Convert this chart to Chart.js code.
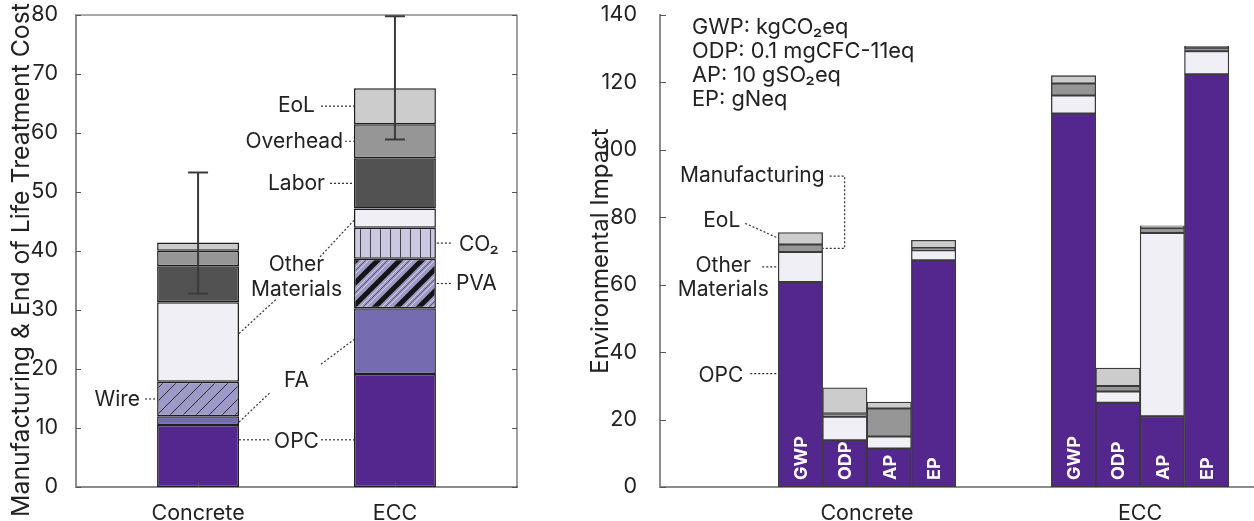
<!DOCTYPE html>
<html>
<head>
<meta charset="utf-8">
<script src="https://cdn.jsdelivr.net/npm/chart.js@4.4.0/dist/chart.umd.min.js"></script>
<style>
    html, body { margin: 0; padding: 0; background: #fff; }
    #costWrap { position: absolute; left: 0; top: 0; width: 540px; height: 521px; }
    #impactWrap { position: absolute; left: 540px; top: 0; width: 714px; height: 521px; }
</style>
</head>
<body>
<div id="costWrap"><canvas id="costChart" width="540" height="521"></canvas></div>
<div id="impactWrap"><canvas id="impactChart" width="714" height="521"></canvas></div>
<script>
// ---- left panel: cost per component (stack order bottom -> top)
const costCategories = ['Concrete', 'ECC'];
const costOPC = [10.5, 19.15];
const costFA = [1.5, 11.15];
const costWire = [5.85, null];
const costPVA = [null, 8.4];
const costCO2 = [null, 5.25];
const costOther = [13.45, 3.25];
const costLabor = [6.1, 8.5];
const costOverhead = [2.65, 5.8];
const costEoL = [1.4, 6.1];
const costErrLow = [32.8, 58.9];
const costErrHigh = [53.3, 79.8];
const costTicks = [0, 10, 20, 30, 40, 50, 60, 70, 80];

// ---- right panel: impacts, one value per indicator (GWP, ODP, AP, EP)
const impactGroups = ['Concrete', 'ECC'];
const impactIndicators = ['GWP', 'ODP', 'AP', 'EP'];
const concreteOPC = [60.8, 13.85, 11.4, 67.25];
const concreteOther = [8.9, 6.95, 3.6, 2.95];
const concreteManuf = [2.2, 1.0, 8.3, 0.7];
const concreteEoL = [3.6, 7.6, 1.9, 2.3];
const eccOPC = [110.8, 25.0, 21.0, 122.4];
const eccOther = [5.3, 3.3, 54.35, 6.85];
const eccManuf = [3.6, 1.65, 1.45, 1.05];
const eccEoL = [2.3, 5.35, 0.7, 0.4];
const impactTicks = [0, 20, 40, 60, 80, 100, 120, 140];
const impactUnits = ['GWP: kgCO₂eq', 'ODP: 0.1 mgCFC-11eq', 'AP: 10 gSO₂eq', 'EP: gNeq'];

Chart.defaults.font.family = 'Inter, "Noto Sans", sans-serif';
Chart.defaults.color = '#222';

const costCtx = document.getElementById('costChart').getContext('2d');

function makePattern(bg, w, h, draw) {
    const c = document.createElement('canvas');
    c.width = w; c.height = h;
    const g = c.getContext('2d');
    g.fillStyle = bg;
    g.fillRect(0, 0, w, h);
    draw(g, w, h);
    return costCtx.createPattern(c, 'repeat');
}

// lines x + y = c (mod s), so the tile repeats cleanly
function diag(g, s, c, width, color) {
    g.strokeStyle = color;
    g.lineWidth = width;
    g.beginPath();
    [-s, 0, s, 2 * s].forEach(k => {
        const C = c + k;
        g.moveTo(-s, C + s);
        g.lineTo(2 * s, C - 2 * s);
    });
    g.stroke();
}

const wirePattern = makePattern('#9e9ac8', 13, 13, (g, s) => diag(g, s, 0, 1, '#2b2b2b'));
const pvaPattern = makePattern('#9e9ac8', 22, 22, (g, s) => {
    diag(g, s, 7, 1, '#d4d2e8');
    diag(g, s, 10, 0.8, '#4a4a4a');
    diag(g, s, 13, 1, '#d4d2e8');
    diag(g, s, 0, 5, '#151515');
});
const co2Pattern = makePattern('#cbc9e2', 10, 10, g => {
    g.strokeStyle = '#444';
    g.lineWidth = 1;
    g.beginPath(); g.moveTo(0.5, 0); g.lineTo(0.5, 10); g.stroke();
});

const costPoints = arr => arr.map((v, i) => ({ x: i + 1, y: v }));

function costSet(label, arr, fill) {
    return {
        label: label,
        data: costPoints(arr),
        backgroundColor: fill,
        borderColor: '#1e1e1e',
        borderWidth: 1.5,
        borderSkipped: false,
        categoryPercentage: 1,
        barPercentage: 0.416
    };
}

// drop the extra room Chart.js keeps for half tick labels
function noPad(s) {
    s.paddingTop = 0; s.paddingBottom = 0;
    s.paddingLeft = 0; s.paddingRight = 0;
}

function dotted(ctx, pts) {
    ctx.save();
    ctx.setLineDash([2, 2]);
    ctx.strokeStyle = '#333';
    ctx.lineWidth = 1.2;
    ctx.beginPath();
    ctx.moveTo(pts[0][0], pts[0][1]);
    for (let i = 1; i < pts.length; i++) ctx.lineTo(pts[i][0], pts[i][1]);
    ctx.stroke();
    ctx.restore();
}

function label(ctx, text, x, y, align, size) {
    ctx.fillStyle = '#222';
    ctx.font = (size || 21) + 'px Inter, "Noto Sans", sans-serif';
    ctx.textAlign = align;
    ctx.textBaseline = 'middle';
    ctx.fillText(text, x, y);
}

const costDecor = {
    id: 'costDecor',
    afterDatasetsDraw(chart) {
        const { ctx, chartArea: a, scales: { x, y } } = chart;
        ctx.save();
        // frame
        ctx.strokeStyle = '#a8a8a8';
        ctx.lineWidth = 2;
        ctx.beginPath(); ctx.moveTo(a.left, a.top); ctx.lineTo(a.right, a.top); ctx.stroke();
        ctx.strokeStyle = '#444';
        ctx.lineWidth = 1;
        ctx.beginPath(); ctx.moveTo(a.right, a.top); ctx.lineTo(a.right, a.bottom); ctx.stroke();
        // inward ticks
        ctx.strokeStyle = '#555';
        ctx.beginPath();
        costTicks.forEach(v => {
            const py = Math.round(y.getPixelForValue(v)) + 0.5;
            ctx.moveTo(a.left, py); ctx.lineTo(a.left + 5, py);
            ctx.moveTo(a.right - 5, py); ctx.lineTo(a.right, py);
        });
        costCategories.forEach((c, i) => {
            const px = Math.round(x.getPixelForValue(i + 1)) + 0.5;
            ctx.moveTo(px, a.bottom); ctx.lineTo(px, a.bottom - 5);
        });
        ctx.stroke();

        // error bars
        ctx.strokeStyle = '#3a3a3a';
        ctx.lineWidth = 2;
        costCategories.forEach((c, i) => {
            const px = x.getPixelForValue(i + 1);
            const lo = y.getPixelForValue(costErrLow[i]);
            const hi = y.getPixelForValue(costErrHigh[i]);
            ctx.beginPath();
            ctx.moveTo(px, lo); ctx.lineTo(px, hi);
            ctx.moveTo(px - 10, lo); ctx.lineTo(px + 10, lo);
            ctx.moveTo(px - 10, hi); ctx.lineTo(px + 10, hi);
            ctx.stroke();
        });

        // axis title
        ctx.save();
        ctx.translate(22, (a.top + a.bottom) / 2 + 9);
        ctx.rotate(-Math.PI / 2);
        label(ctx, 'Manufacturing & End of Life Treatment Cost', 0, 0, 'center', 24.8);
        ctx.restore();

        // callouts
        const cBar = chart.getDatasetMeta(0).data[0];
        const eBar = chart.getDatasetMeta(0).data[1];
        const cL = cBar.x - cBar.width / 2, cR = cBar.x + cBar.width / 2;
        const eL = eBar.x - eBar.width / 2, eR = eBar.x + eBar.width / 2;
        const mid = (cR + eL) / 2;
        const Y = v => y.getPixelForValue(v);
        const topOf = (list, i) => list.reduce((s, arr) => s + (arr[i] || 0), 0);
        const eccMid = (below, seg) => Y(topOf(below, 1) + seg[1] / 2);
        const base = [costOPC, costFA, costWire, costPVA, costCO2, costOther];

        let py = eccMid([...base, costLabor, costOverhead], costEoL);
        label(ctx, 'EoL', eL - 39, py, 'right');
        dotted(ctx, [[eL - 33, py], [eL, py]]);
        py = eccMid([...base, costLabor], costOverhead);
        label(ctx, 'Overhead', eL - 11, py, 'right');
        dotted(ctx, [[eL - 9, py], [eL, py]]);
        py = eccMid(base, costLabor);
        label(ctx, 'Labor', eL - 29, py, 'right');
        dotted(ctx, [[eL - 24, py], [eL, py]]);
        py = eccMid([costOPC, costFA, costWire, costPVA], costCO2);
        label(ctx, 'CO₂', eR + 23, py + 2, 'left');
        dotted(ctx, [[eR + 1, py], [eR + 16, py]]);
        py = eccMid([costOPC, costFA, costWire], costPVA);
        label(ctx, 'PVA', eR + 20, py, 'left');
        dotted(ctx, [[eR + 1, py], [eR + 16, py]]);
        py = Y(costOPC[0] + costFA[0] + costWire[0] / 2);
        label(ctx, 'Wire', cL - 17, py + 1, 'right');
        dotted(ctx, [[cL - 12, py], [cL, py]]);

        py = Y(8);
        label(ctx, 'OPC', mid, py + 2, 'center');
        dotted(ctx, [[cR, py], [cR + 32, py]]);
        dotted(ctx, [[eL - 33, py], [eL, py]]);

        label(ctx, 'FA', mid, Y(18.1), 'center');
        dotted(ctx, [[cR, Y(11)], [cR + 31, Y(16)]]);
        dotted(ctx, [[eL - 33, Y(20.8)], [eL, Y(25)]]);

        label(ctx, 'Other', mid, Y(37.6), 'center');
        label(ctx, 'Materials', mid, Y(33.4), 'center');
        dotted(ctx, [[cR, Y(26)], [cR + 37, Y(31.8)]]);
        dotted(ctx, [[eL - 34, Y(39)], [eL, Y(45.2)]]);
        ctx.restore();
    }
};

new Chart(costCtx, {
    type: 'bar',
    data: {
        datasets: [
            costSet('OPC', costOPC, '#54278f'),
            costSet('FA', costFA, '#756bb1'),
            costSet('Wire', costWire, wirePattern),
            costSet('PVA', costPVA, pvaPattern),
            costSet('CO2', costCO2, co2Pattern),
            costSet('Other Materials', costOther, '#f0eff6'),
            costSet('Labor', costLabor, '#525252'),
            costSet('Overhead', costOverhead, '#969696'),
            costSet('EoL', costEoL, '#cccccc')
        ]
    },
    options: {
        responsive: false,
        animation: false,
        layout: { padding: { top: 15, right: 23, left: 0, bottom: 0 } },
        scales: {
            x: {
                type: 'linear',
                min: 0.38,
                max: 2.62,
                offset: false,
                stacked: true,
                grid: { display: false },
                border: { display: true, color: '#8c8c8c', width: 2 },
                afterBuildTicks: s => { s.ticks = costCategories.map((c, i) => ({ value: i + 1 })); },
                afterFit: s => { s.height = 34; noPad(s); },
                ticks: {
                    callback: v => costCategories[Math.round(v) - 1],
                    font: { size: 21.5 },
                    color: '#222',
                    padding: 6,
                    maxRotation: 0,
                    autoSkip: false
                }
            },
            y: {
                min: 0,
                max: 80,
                stacked: true,
                grid: { display: false },
                border: { display: true, color: '#8c8c8c', width: 2 },
                afterBuildTicks: s => { s.ticks = costTicks.map(v => ({ value: v })); },
                afterFit: s => { s.width = 76; noPad(s); },
                ticks: { font: { size: 21.5 }, color: '#222', padding: 10 }
            }
        },
        plugins: { legend: { display: false }, tooltip: { enabled: false } }
    },
    plugins: [costDecor]
});

// ---- right panel
const subWidth = 0.1625;
const impactX = [];
impactGroups.forEach((g, gi) => {
    impactIndicators.forEach((k, ki) => impactX.push(gi + 1 + (ki - 1.5) * subWidth));
});
const impactPoints = (a, b) => a.concat(b).map((v, i) => ({ x: impactX[i], y: v }));

function impactSet(label, a, b, fill) {
    return {
        label: label,
        data: impactPoints(a, b),
        backgroundColor: fill,
        borderColor: '#3a3a3a',
        borderWidth: 1.3,
        borderSkipped: false,
        categoryPercentage: 1,
        barPercentage: 1
    };
}

const impactDecor = {
    id: 'impactDecor',
    afterDatasetsDraw(chart) {
        const { ctx, chartArea: a, scales: { y } } = chart;
        ctx.save();
        ctx.strokeStyle = '#555';
        ctx.lineWidth = 1;
        ctx.beginPath();
        impactTicks.forEach(v => {
            const py = Math.round(y.getPixelForValue(v)) + 0.5;
            ctx.moveTo(a.left, py); ctx.lineTo(a.left + 6, py);
        });
        ctx.stroke();

        // indicator names inside the bars
        const bars = chart.getDatasetMeta(0).data;
        ctx.fillStyle = '#fff';
        ctx.font = 'bold 18px Inter, "Noto Sans", sans-serif';
        ctx.textAlign = 'left';
        ctx.textBaseline = 'middle';
        bars.forEach((b, i) => {
            ctx.save();
            ctx.translate(b.x, a.bottom - 7);
            ctx.rotate(-Math.PI / 2);
            ctx.fillText(impactIndicators[i % impactIndicators.length], 0, 1);
            ctx.restore();
        });

        // units block
        impactUnits.forEach((t, i) => label(ctx, t, a.left + 32, a.top + 12 + i * 24, 'left', 21.8));

        // callouts on the Concrete GWP bar
        const g = bars[0];
        const gL = g.x - g.width / 2, gR = g.x + g.width / 2;
        const Y = v => y.getPixelForValue(v);
        const manufMid = Y(concreteOPC[0] + concreteOther[0] + concreteManuf[0] / 2);
        const textY = Y(92.2);
        label(ctx, 'Manufacturing', gR + 2, textY, 'right', 21);
        dotted(ctx, [[gR + 7, textY], [gR + 22, textY], [gR + 22, manufMid], [gR, manufMid]]);
        label(ctx, 'EoL', gL - 38, Y(79), 'right', 21);
        dotted(ctx, [[gL - 33, Y(78.2)], [gL, Y(73.8)]]);
        label(ctx, 'Other', gL - 55, Y(65.7), 'center', 21);
        label(ctx, 'Materials', gL - 55, Y(58.6), 'center', 21);
        dotted(ctx, [[gL - 16, Y(65.3)], [gL, Y(65.3)]]);
        label(ctx, 'OPC', gL - 35, Y(33), 'right', 21);
        dotted(ctx, [[gL - 28, Y(33.6)], [gL, Y(33.6)]]);
        ctx.restore();
    }
};

new Chart(document.getElementById('impactChart'), {
    type: 'bar',
    data: {
        datasets: [
            impactSet('OPC', concreteOPC, eccOPC, '#54278f'),
            impactSet('Other Materials', concreteOther, eccOther, '#f0eff6'),
            impactSet('Manufacturing', concreteManuf, eccManuf, '#969696'),
            impactSet('EoL', concreteEoL, eccEoL, '#cccccc')
        ]
    },
    options: {
        responsive: false,
        animation: false,
        layout: { padding: { top: 15, right: 0, left: 0, bottom: 0 } },
        scales: {
            x: {
                type: 'linear',
                min: 0.242,
                max: 2.417,
                offset: false,
                stacked: true,
                grid: { display: false },
                border: { display: true, color: '#8c8c8c', width: 2 },
                afterBuildTicks: s => { s.ticks = impactGroups.map((c, i) => ({ value: i + 1 })); },
                afterFit: s => { s.height = 34; noPad(s); },
                ticks: {
                    callback: v => impactGroups[Math.round(v) - 1],
                    font: { size: 21.5 },
                    color: '#222',
                    padding: 6,
                    maxRotation: 0,
                    autoSkip: false
                }
            },
            y: {
                min: 0,
                max: 140,
                stacked: true,
                grid: { display: false },
                border: { display: true, color: '#8c8c8c', width: 2 },
                afterBuildTicks: s => { s.ticks = impactTicks.map(v => ({ value: v })); },
                afterFit: s => { s.width = 120; noPad(s); },
                ticks: { font: { size: 21.5 }, color: '#222', padding: 15 },
                title: {
                    display: true,
                    text: 'Environmental Impact',
                    font: { size: 24 },
                    color: '#222',
                    padding: { top: 46, bottom: 0 }
                }
            }
        },
        plugins: { legend: { display: false }, tooltip: { enabled: false } }
    },
    plugins: [impactDecor]
});
</script>
</body>
</html>
